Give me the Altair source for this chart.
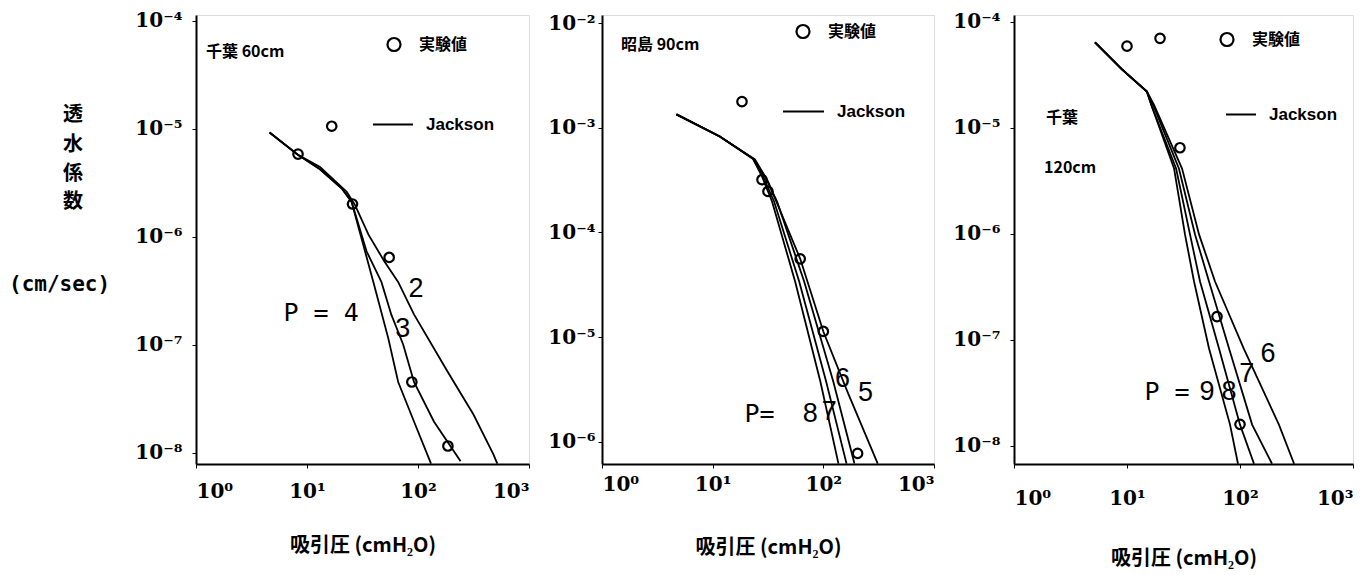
import altair as alt
import pandas as pd

# ---------------- data ----------------
# Panel 1: 千葉 60cm
P1_P4_X = [4.6, 8.3, 13.1, 20.5, 25.2, 39.6, 54.0, 66.3, 92.0, 131]
P1_P4_Y = [9.2e-6, 5.7e-6, 4.2e-6, 2.8e-6, 2.1e-6, 3.8e-7, 1.14e-7, 4.5e-8, 1.94e-8, 7.9e-9]
P1_P3_X = [4.6, 8.3, 13.1, 20.5, 25.2, 34.4, 46.8, 57.4, 73.5, 92.0, 139, 242]
P1_P3_Y = [9.2e-6, 5.7e-6, 4.2e-6, 2.8e-6, 2.1e-6, 7.3e-7, 3.8e-7, 1.9e-7, 1.0e-7, 4.5e-8, 1.94e-8, 8.3e-9]
P1_P2_X = [4.6, 8.3, 13.1, 22.8, 26.9, 35.8, 49.7, 66.2, 92.0, 185, 316, 478, 518]
P1_P2_Y = [9.2e-6, 5.7e-6, 4.4e-6, 2.6e-6, 1.98e-6, 1.04e-6, 5.9e-7, 3.8e-7, 1.9e-7, 5.6e-8, 2.25e-8, 9.6e-9, 7.9e-9]
P1_OBS_X = [8.3, 16.7, 25.7, 55, 88, 186]
P1_OBS_Y = [5.8e-6, 1.05e-5, 2.0e-6, 6.4e-7, 4.5e-8, 1.15e-8]

# Panel 2: 昭島 90cm
P2_P8_X = [4.71, 11.6, 23.1, 27.9, 34.4, 55.6, 94, 137]
P2_P8_Y = [1.35e-3, 8.3e-4, 5.1e-4, 3.44e-4, 1.98e-4, 3.4e-5, 3.75e-6, 6.15e-7]
P2_P7_X = [4.71, 11.6, 23.1, 28.5, 35.9, 60.5, 106, 162]
P2_P7_Y = [1.35e-3, 8.3e-4, 5.1e-4, 3.44e-4, 1.98e-4, 3.4e-5, 3.75e-6, 6.15e-7]
P2_P6_X = [4.71, 11.6, 23.6, 29.7, 38.2, 67.1, 123, 191]
P2_P6_Y = [1.35e-3, 8.3e-4, 5.0e-4, 3.44e-4, 1.98e-4, 3.4e-5, 3.75e-6, 6.15e-7]
P2_P5_X = [4.71, 11.6, 24.1, 31.6, 61.8, 100, 165, 310]
P2_P5_Y = [1.35e-3, 8.3e-4, 5.0e-4, 3.08e-4, 5.6e-5, 1.13e-5, 3.0e-6, 6.15e-7]
P2_OBS_X = [18.4, 27.9, 31.6, 61.8, 100, 204]
P2_OBS_Y = [1.79e-3, 3.2e-4, 2.47e-4, 5.6e-5, 1.13e-5, 7.7e-7]

# Panel 3: 千葉 120cm
P3_P9_X = [5.21, 9.03, 15.0, 16.6, 26.1, 32.6, 39.2, 53.2, 81.6, 96]
P3_P9_Y = [6.4e-5, 3.56e-5, 2.2e-5, 1.59e-5, 4.14e-6, 9.9e-7, 3.56e-7, 8.3e-8, 1.59e-8, 6.8e-9]
P3_P8_X = [5.21, 9.03, 15.0, 16.6, 27.2, 36.1, 44.3, 65.2, 100, 133]
P3_P8_Y = [6.4e-5, 3.56e-5, 2.2e-5, 1.59e-5, 4.14e-6, 9.9e-7, 3.56e-7, 8.3e-8, 1.59e-8, 6.8e-9]
P3_P7_X = [5.21, 9.03, 15.0, 17.0, 28.8, 40.0, 53.2, 80, 128, 192]
P3_P7_Y = [6.4e-5, 3.56e-5, 2.2e-5, 1.66e-5, 4.14e-6, 9.9e-7, 3.56e-7, 8.3e-8, 1.59e-8, 6.8e-9]
P3_P6_X = [5.21, 9.03, 15.0, 17.3, 30.7, 43.4, 60.1, 108, 221, 301]
P3_P6_Y = [6.4e-5, 3.56e-5, 2.2e-5, 1.66e-5, 4.14e-6, 9.9e-7, 3.56e-7, 8.3e-8, 1.59e-8, 6.8e-9]
P3_OBS_X = [10, 19.6, 29.4, 62.6, 100]
P3_OBS_Y = [5.9e-5, 7.0e-5, 6.5e-6, 1.66e-7, 1.6e-8]

# curve labels (text, x, y)
P1_LABELS = [("2", 96, 3.3e-7), ("3", 73, 1.4e-7)]
P1_PEQ = ("P = 4", 13.4, 1.94e-7)
P2_LABELS = [("8", 76, 1.85e-6), ("7", 113, 1.93e-6), ("6", 149, 4.0e-6), ("5", 241, 2.9e-6)]
P2_PEQ = ("P=", 26.5, 1.85e-6)
P3_LABELS = [("9", 51, 3.26e-8), ("8", 80, 3.26e-8), ("7", 115, 4.8e-8), ("6", 177, 7.4e-8)]
P3_PEQ = ("P =", 22.6, 3.26e-8)

X_TICKS = [1, 10, 100, 1000]
P1_Y_EXP = [-4, -5, -6, -7, -8]
P2_Y_EXP = [-2, -3, -4, -5, -6]
P3_Y_EXP = [-4, -5, -6, -7, -8]

X_TITLE = "吸引圧 (cmH₂O)"

SUP = str.maketrans("-0123456789", "⁻⁰¹²³⁴⁵⁶⁷⁸⁹")


def label_expr(exps):
    parts = [f"abs(log(datum.value)/LN10 - ({e})) < 0.01 ? '10{str(e).translate(SUP)}'" for e in exps]
    return " : ".join(parts) + " : ''"


def curves_df(curves):
    rows = []
    for name, xs, ys in curves:
        for i, (x, y) in enumerate(zip(xs, ys)):
            rows.append({"P": name, "i": i, "x": x, "y": y})
    return pd.DataFrame(rows)


ONE = pd.DataFrame({"a": [0]})
TICK_FONT = "DejaVu Serif"
CJK = "Noto Sans CJK JP"


def txt(s, x, y, font, size, weight="bold", align="left"):
    return alt.Chart(ONE).mark_text(text=s, font=font, fontSize=size, fontWeight=weight,
                                    align=align, baseline="middle", color="black").encode(
        x=alt.value(x), y=alt.value(y))


def panel(curves, obs_x, obs_y, ydom, yexp, width, height, xlab_pad, xtitle_pad, ylab_pad,
          labels, peq, title_texts, legend_pos, extra=None):
    xs = alt.Scale(type="log", domain=[1, 1000], nice=False)
    ys = alt.Scale(type="log", domain=ydom, nice=False)
    xaxis = alt.Axis(values=X_TICKS, labelExpr=label_expr([0, 1, 2, 3]), labelFlush=True,
                     grid=False, title=X_TITLE, titleFont=CJK, titleFontSize=20,
                     titleFontWeight="bold", titlePadding=xtitle_pad, labelPadding=xlab_pad,
                     labelFont=TICK_FONT, labelFontSize=20, labelFontWeight="bold",
                     tickSize=4, domainColor="black", domainWidth=2, tickColor="black",
                     labelColor="black", titleColor="black")
    yaxis = alt.Axis(values=[10.0 ** e for e in yexp], labelExpr=label_expr(yexp), grid=False,
                     title=None, labelPadding=ylab_pad, labelFont=TICK_FONT, labelFontSize=20,
                     labelFontWeight="bold", tickSize=4, domainColor="black", domainWidth=2,
                     tickColor="black", labelColor="black")
    lines = alt.Chart(curves_df(curves)).mark_line(color="black", strokeWidth=1.8, clip=True).encode(
        x=alt.X("x:Q", scale=xs, axis=xaxis),
        y=alt.Y("y:Q", scale=ys, axis=yaxis),
        detail="P:N", order="i:Q")
    pts = alt.Chart(pd.DataFrame({"x": obs_x, "y": obs_y})).mark_point(
        shape="circle", filled=False, color="black", opacity=1, strokeWidth=2.2, size=90,
        clip=True).encode(
        x=alt.X("x:Q", scale=xs), y=alt.Y("y:Q", scale=ys))
    lab_df = pd.DataFrame({"t": [l[0] for l in labels], "x": [l[1] for l in labels],
                           "y": [l[2] for l in labels]})
    labs = alt.Chart(lab_df).mark_text(font="Liberation Sans, DejaVu Sans", fontSize=27,
                                       color="black").encode(
        x=alt.X("x:Q", scale=xs), y=alt.Y("y:Q", scale=ys), text="t:N")
    peq_df = pd.DataFrame({"t": [peq[0]], "x": [peq[1]], "y": [peq[2]]})
    peqm = alt.Chart(peq_df).mark_text(font="DejaVu Sans Mono", fontSize=25,
                                       color="black").encode(
        x=alt.X("x:Q", scale=xs), y=alt.Y("y:Q", scale=ys), text="t:N")
    layers = [lines, pts, labs, peqm]
    for s, x, y in title_texts:
        layers.append(txt(s, x, y, CJK, 16))
    cx, cy, lx1, lx2, ly = legend_pos
    layers.append(alt.Chart(ONE).mark_point(shape="circle", filled=False, color="black",
                                            opacity=1, strokeWidth=2.2, size=170).encode(
        x=alt.value(cx), y=alt.value(cy)))
    layers.append(txt("実験値", cx + 25, cy, CJK, 16))
    layers.append(alt.Chart(ONE).mark_rule(color="black", strokeWidth=2).encode(
        x=alt.value(lx1), x2=alt.value(lx2), y=alt.value(ly)))
    layers.append(txt("Jackson", lx2 + 13, ly, "Liberation Sans", 17))
    if extra:
        layers.extend(extra)
    return alt.layer(*layers).properties(width=width, height=height)


H = 449
ytitle = [txt(c, -123, y, CJK, 20, align="center") for c, y in
          zip("透水係数", [99.5, 129.5, 158.5, 186.5])]
ytitle.append(txt("(cm/sec)", -187, 269.5, "DejaVu Sans Mono", 21))

p1 = panel([("P=4", P1_P4_X, P1_P4_Y), ("P=3", P1_P3_X, P1_P3_Y), ("P=2", P1_P2_X, P1_P2_Y)],
           P1_OBS_X, P1_OBS_Y, [10 ** -8.106, 10 ** -3.949], P1_Y_EXP, 333, H,
           13, 34, 10, P1_LABELS, P1_PEQ, [("千葉 60cm", 10, 36.5)],
           (198, 29.5, 177, 217, 109.5), extra=ytitle)
p2 = panel([("P=8", P2_P8_X, P2_P8_Y), ("P=7", P2_P7_X, P2_P7_Y), ("P=6", P2_P6_X, P2_P6_Y),
            ("P=5", P2_P5_X, P2_P5_Y)],
           P2_OBS_X, P2_OBS_Y, [10 ** -6.215, 10 ** -1.919], P2_Y_EXP, 332, H,
           6, 43, 3, P2_LABELS, P2_PEQ, [("昭島 90cm", 19, 29.5)],
           (201, 16.5, 181, 222, 96.5))
p3 = panel([("P=9", P3_P9_X, P3_P9_Y), ("P=8", P3_P8_X, P3_P8_Y), ("P=7", P3_P7_X, P3_P7_Y),
            ("P=6", P3_P6_X, P3_P6_Y)],
           P3_OBS_X, P3_OBS_Y, [10 ** -8.17, 10 ** -3.935], P3_Y_EXP, 339, H,
           20, 40, 10, P3_LABELS, P3_PEQ, [("千葉", 32, 102.5), ("120cm", 30, 152.5)],
           (213, 24.5, 212, 242, 99.5))

chart = alt.hconcat(
    p1, alt.hconcat(p2, p3, spacing=80, bounds="flush"), spacing=73, bounds="flush"
).properties(
    padding={"left": 0, "top": 2, "right": 0, "bottom": 0}
).configure_view(stroke="black", strokeWidth=2).configure(background="white")

chart.save("out.html", embed_options={"renderer": "svg", "actions": False})
